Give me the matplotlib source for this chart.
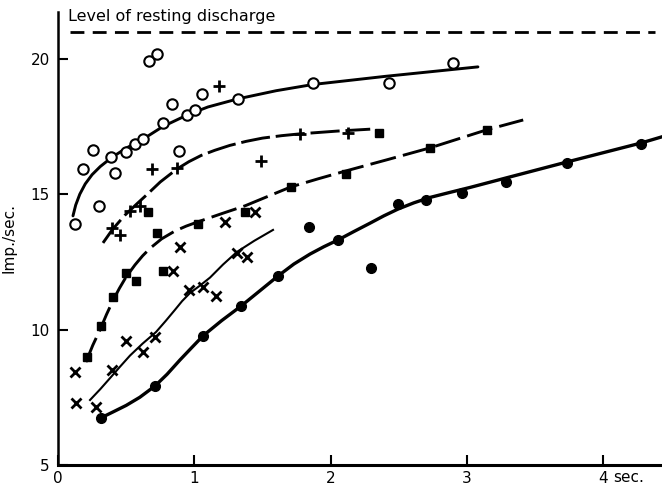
import matplotlib as mpl
mpl.use('Agg')
import matplotlib.pyplot as plt
from matplotlib.transforms import blended_transform_factory

# resting discharge level
resting = 21.0

# open circles
oc_x = [0.125, 0.183, 0.257, 0.301, 0.389, 0.418, 0.499, 0.565, 0.624, 0.770,
        0.836, 0.887, 0.946, 1.005, 1.057, 0.668, 0.726, 1.321, 1.871, 2.428, 2.898]
oc_y = [13.90, 15.93, 16.64, 14.57, 16.38, 15.79, 16.56, 16.86, 17.04, 17.63,
        18.34, 16.60, 17.93, 18.11, 18.71, 19.92, 20.18, 18.52, 19.11, 19.11, 19.85]
oc_cx = [0.11, 0.13, 0.16, 0.20, 0.25, 0.31, 0.39, 0.50, 0.62, 0.77, 0.95, 1.10,
         1.32, 1.60, 1.87, 2.40, 3.08]
oc_cy = [14.20, 14.60, 15.00, 15.38, 15.72, 16.02, 16.34, 16.70, 17.02, 17.50, 17.93,
         18.22, 18.52, 18.82, 19.05, 19.35, 19.70]

# plus signs
pl_x = [1.181, 0.690, 0.873, 1.489, 1.775, 2.128, 0.528, 0.602, 0.396, 0.455]
pl_y = [19.00, 15.93, 15.97, 16.23, 17.23, 17.26, 14.38, 14.57, 13.76, 13.50]
pl_cx = [0.33, 0.40, 0.49, 0.58, 0.66, 0.75, 0.87, 0.96, 1.05, 1.15, 1.26, 1.38,
         1.50, 1.64, 1.78, 2.05, 2.29]
pl_cy = [13.20, 13.70, 14.22, 14.65, 15.02, 15.45, 15.92, 16.20, 16.43, 16.62, 16.80,
         16.95, 17.07, 17.16, 17.23, 17.33, 17.40]

# filled squares
sq_x = [0.660, 0.726, 1.027, 1.372, 1.709, 2.113, 2.729, 3.147, 2.355,
        0.499, 0.572, 0.404, 0.315, 0.213, 0.770]
sq_y = [14.35, 13.57, 13.90, 14.35, 15.27, 15.75, 16.71, 17.38, 17.26,
        12.09, 11.80, 11.21, 10.13, 8.99, 12.17]
sq_cx = [0.205, 0.255, 0.308, 0.356, 0.404, 0.45, 0.492, 0.53, 0.565, 0.62, 0.675,
         0.76, 0.858, 0.94, 1.027, 1.20, 1.372, 1.54, 1.709, 1.91, 2.113, 2.42,
         2.729, 3.147, 3.412]
sq_cy = [8.80, 9.42, 9.99, 10.56, 11.08, 11.52, 11.88, 12.15, 12.39, 12.72, 13.00,
         13.35, 13.64, 13.82, 13.98, 14.28, 14.57, 14.92, 15.27, 15.57, 15.86, 16.28,
         16.71, 17.38, 17.74]

# crosses
x_x = [0.125, 0.132, 0.279, 0.396, 0.499, 0.624, 0.712, 0.844, 0.895, 0.961,
       1.064, 1.159, 1.225, 1.313, 1.387, 1.445]
x_y = [8.44, 7.29, 7.14, 8.51, 9.58, 9.17, 9.73, 12.17, 13.05, 11.46,
       11.58, 11.24, 13.98, 12.83, 12.68, 14.35]
x_cx = [0.235, 0.31, 0.382, 0.455, 0.528, 0.62, 0.719, 0.79, 0.858, 0.91, 0.968,
        1.04, 1.115, 1.21, 1.313, 1.44, 1.577]
x_cy = [7.40, 7.80, 8.21, 8.63, 9.04, 9.48, 9.91, 10.32, 10.73, 11.05, 11.35,
        11.62, 11.92, 12.40, 12.87, 13.28, 13.68]

# filled circles
fc_x = [0.315, 0.712, 1.064, 1.343, 1.614, 1.842, 2.054, 2.296, 2.494,
        2.700, 2.964, 3.287, 3.734, 4.277]
fc_y = [6.74, 7.92, 9.77, 10.87, 11.98, 13.79, 13.31, 12.28, 14.64,
        14.79, 15.05, 15.45, 16.16, 16.86]
fc_cx = [0.315, 0.40, 0.50, 0.60, 0.712, 0.80, 0.895, 0.98, 1.064, 1.20, 1.343,
         1.48, 1.614, 1.73, 1.849, 1.95, 2.054, 2.17, 2.289, 2.39, 2.494, 2.61,
         2.729, 2.87, 3.023, 3.287, 3.734, 4.277, 4.431]
fc_cy = [6.74, 6.95, 7.20, 7.50, 7.92, 8.35, 8.88, 9.33, 9.77, 10.33, 10.87,
         11.43, 11.98, 12.42, 12.79, 13.06, 13.31, 13.62, 13.93, 14.20, 14.45, 14.68,
         14.88, 15.06, 15.25, 15.60, 16.19, 16.89, 17.12]

fig = plt.figure(figsize=(6.62, 4.96), dpi=100)
ax = fig.add_axes([0.0876, 0.0625, 0.9124, 0.9135])

ax.plot([0.09, 4.38], [resting, resting], color='black', lw=2.0, dashes=(5, 3))
ax.text(0.07, 21.3, 'Level of resting discharge', fontsize=11.5, va='bottom', ha='left')

ax.plot(oc_cx, oc_cy, color='black', lw=2.1, solid_capstyle='round')
ax.plot(pl_cx, pl_cy, color='black', lw=2.1, dashes=(10, 2))
ax.plot(sq_cx, sq_cy, color='black', lw=2.1, dashes=(9, 2.5))
ax.plot(x_cx, x_cy, color='black', lw=1.5)
ax.plot(fc_cx, fc_cy, color='black', lw=2.4)

ax.plot(oc_x, oc_y, 'o', ms=7.5, mfc='white', mec='black', mew=1.5)
ax.plot(pl_x, pl_y, '+', ms=9, mec='black', mew=2.0)
ax.plot(sq_x, sq_y, 's', ms=5.5, mfc='black', mec='black')
ax.plot(x_x, x_y, 'x', ms=7, mec='black', mew=2.0)
ax.plot(fc_x, fc_y, 'o', ms=7, mfc='black', mec='black')

ax.set_xlim(0, 4.43)
ax.set_ylim(5, 21.73)
ax.spines['top'].set_visible(False)
ax.spines['right'].set_visible(False)
ax.spines['left'].set_linewidth(1.8)
ax.spines['bottom'].set_linewidth(2.2)

ax.set_xticks([0, 1, 2, 3, 4])
ax.set_xticklabels(['0', '1', '2', '3', '4'])
ax.set_yticks([5, 10, 15, 20])
ax.tick_params(direction='in', length=7, width=1.5, labelsize=11, pad=4)
ax.tick_params(axis='y', pad=6)
trans = blended_transform_factory(ax.transData, ax.transAxes)
ax.text(4.07, -0.012, 'sec.', transform=trans, fontsize=11, va='top', ha='left')

ax.set_ylabel('Imp./sec.', fontsize=11, labelpad=10)

fig.savefig('out.png', dpi=100)
